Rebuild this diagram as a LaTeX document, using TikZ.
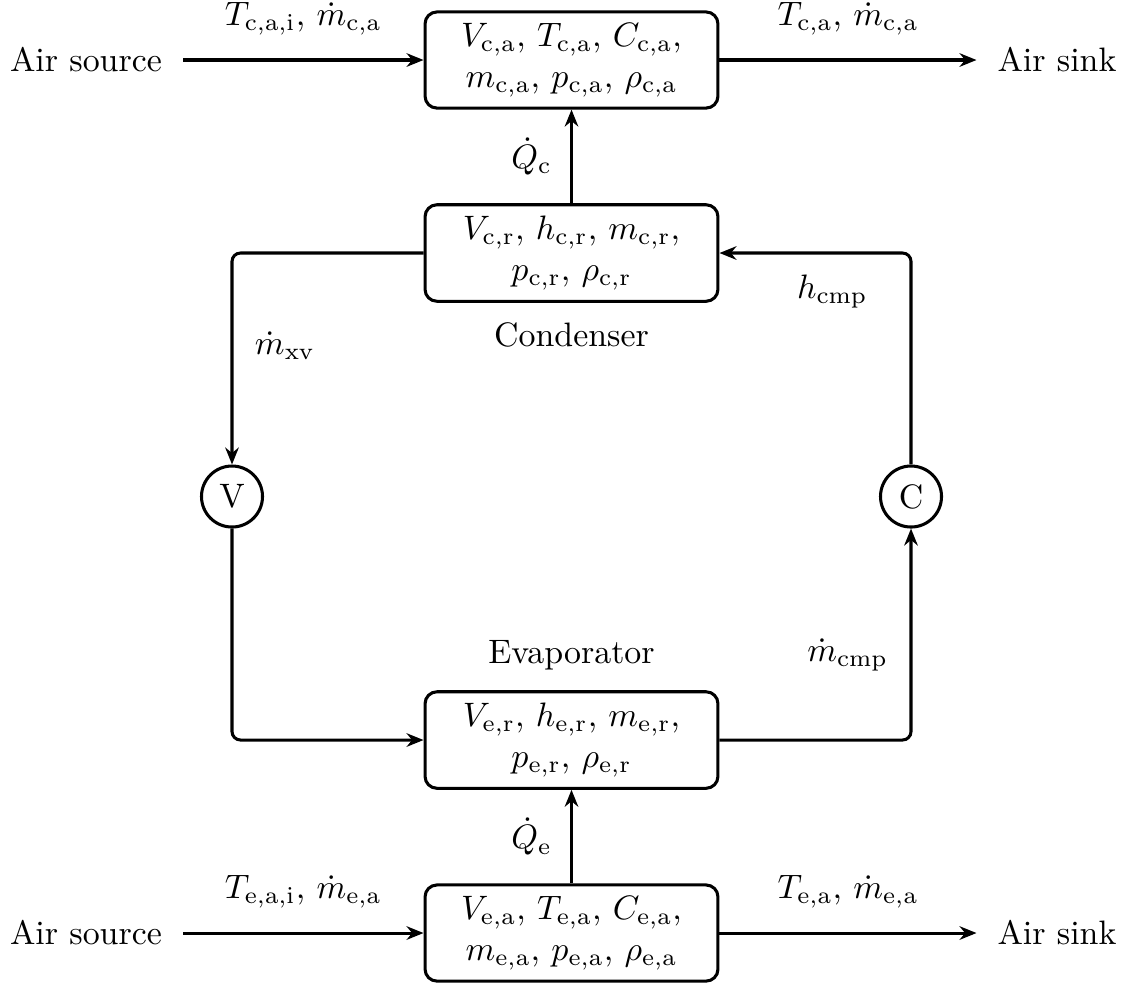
\documentclass[tikz,border=0pt]{standalone}
\usetikzlibrary{arrows.meta,positioning}
\begin{document}
\begin{tikzpicture}[x=0.295pt,y=-0.295pt,
  flow/.style={line width=0.9pt,-{Stealth[length=5pt,width=4pt]},rounded corners=2.5pt},
  varbox/.style={draw,line width=0.9pt,rounded corners=3.5pt,minimum width=86.4pt,
    minimum height=28pt,align=center},
  unitnode/.style={draw,circle,line width=0.9pt,minimum size=18pt,inner sep=0pt},
  endnode/.style={inner xsep=6pt},
]
\useasboundingbox (0,0) rectangle (1130,987);

% condenser air side
\node[endnode] (src1) at (86,60) {Air source};
\node[endnode] (snk1) at (1057,60) {Air sink};
\node[varbox] (ca) at (571.5,60)
  {$V_{\mathrm{c,a}}$, $T_{\mathrm{c,a}}$, $C_{\mathrm{c,a}}$,\\
   $m_{\mathrm{c,a}}$, $p_{\mathrm{c,a}}$, $\rho_{\mathrm{c,a}}$};

% condenser refrigerant side
\node[varbox] (cr) at (571.5,253)
  {$V_{\mathrm{c,r}}$, $h_{\mathrm{c,r}}$, $m_{\mathrm{c,r}}$,\\
   $p_{\mathrm{c,r}}$, $\rho_{\mathrm{c,r}}$};
\node[below=2.3pt of cr] (condname) {Condenser};

% valve and compressor
\node[unitnode] (V) at (232,496.5) {V};
\node[unitnode] (C) at (911,496.5) {C};

% evaporator refrigerant side
\node[varbox] (er) at (571.5,740)
  {$V_{\mathrm{e,r}}$, $h_{\mathrm{e,r}}$, $m_{\mathrm{e,r}}$,\\
   $p_{\mathrm{e,r}}$, $\rho_{\mathrm{e,r}}$};
\node[above=2.3pt of er] (evapname) {Evaporator};

% evaporator air side
\node[endnode] (src2) at (86,933) {Air source};
\node[endnode] (snk2) at (1057,933) {Air sink};
\node[varbox] (ea) at (571.5,933)
  {$V_{\mathrm{e,a}}$, $T_{\mathrm{e,a}}$, $C_{\mathrm{e,a}}$,\\
   $m_{\mathrm{e,a}}$, $p_{\mathrm{e,a}}$, $\rho_{\mathrm{e,a}}$};

% air flows
\draw[flow] (src1) -- node[above=3.5pt] {$T_{\mathrm{c,a,i}}$, $\dot m_{\mathrm{c,a}}$} (ca);
\draw[flow] (ca) -- node[above=3.5pt] {$T_{\mathrm{c,a}}$, $\dot m_{\mathrm{c,a}}$} (snk1);
\draw[flow] (src2) -- node[above=3.5pt] {$T_{\mathrm{e,a,i}}$, $\dot m_{\mathrm{e,a}}$} (ea);
\draw[flow] (ea) -- node[above=3.5pt] {$T_{\mathrm{e,a}}$, $\dot m_{\mathrm{e,a}}$} (snk2);

% heat flows
\draw[flow] (cr) -- node[left=2pt] {$\dot Q_{\mathrm{c}}$} (ca);
\draw[flow] (ea) -- node[left=2pt] {$\dot Q_{\mathrm{e}}$} (er);

% refrigerant loop
\draw[flow] (cr.west) -| node[pos=0.72,right=3pt] {$\dot m_{\mathrm{xv}}$} (V);
\draw[flow] (V) |- (er.west);
\draw[flow] (er.east) -| node[pos=0.70,left=3pt] {$\dot m_{\mathrm{cmp}}$} (C);
\draw[flow] (C) |- node[pos=0.41,left=9pt] {$h_{\mathrm{cmp}}$} (cr.east);
\end{tikzpicture}
\end{document}
